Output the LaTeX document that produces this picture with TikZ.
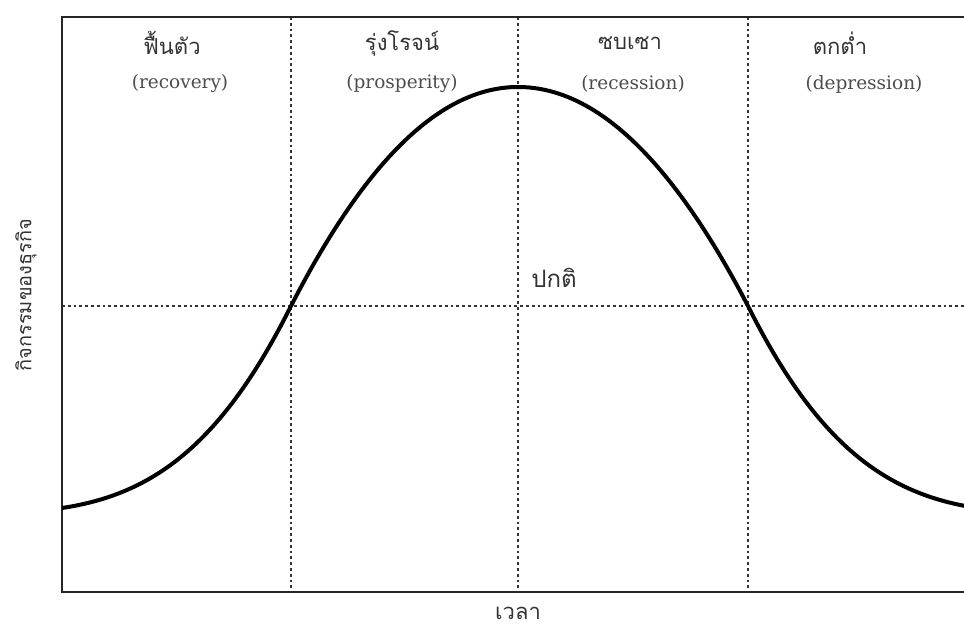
\documentclass[tikz,border=0pt]{standalone}
\usepackage{fontspec}
\setmainfont{DejaVu Serif}
\newfontfamily\thai[Script=Thai]{Loma}
\begin{document}
\begin{tikzpicture}[x=1pt,y=-1pt,
  frame/.style={line width=1.8pt, draw=black!85},
  guide/.style={line width=2.2pt, draw=black!80, dash pattern=on 2.8pt off 3pt},
  curve/.style={line width=4pt, line cap=round},
  thlab/.style={font=\thai\fontsize{22}{24}\selectfont, text=black!80, inner sep=0pt},
  enlab/.style={font=\fontsize{18.5}{22}\selectfont, text=black!70, inner sep=0pt}]
\useasboundingbox (0,0) rectangle (964,631);
\coordinate (TL) at (62,17);
\coordinate (BL) at (62,592);
\coordinate (TR) at (964,17);
\coordinate (BR) at (964,592);
\coordinate (ML) at (62,306);
\coordinate (MR) at (964,306);
\foreach \x/\n in {291/a,518/b,748/c} {
  \coordinate (\n t) at (\x,17);
  \coordinate (\n b) at (\x,592);
}
\draw[guide] (ML) -- (MR);
\foreach \n in {a,b,c} \draw[guide] (\n t) -- (\n b);
\draw[frame] (TR) -- (TL) -- (BL) -- (BR);
\begin{scope}
\clip (62,0) rectangle (964,631);
\draw[curve] (62,508) .. controls (152,494.5) and (221,446) .. (291,306)
  .. controls (367,158) and (442,87) .. (518,87)
  .. controls (595,87) and (671,158) .. (748,306)
  .. controls (818,446) and (887,494.5) .. (977,508);
\end{scope}
\node[thlab] (t1) at (172,43) {ฟื้นตัว};
\node[enlab] (e1) at (180,84) {(recovery)};
\node[thlab] (t2) at (402,43) {รุ่งโรจน์};
\node[enlab] (e2) at (402,84) {(prosperity)};
\node[thlab] (t3) at (630,43) {ซบเซา};
\node[enlab] (e3) at (633,84) {(recession)};
\node[thlab] (t4) at (840,43) {ตกต่ำ};
\node[enlab] (e4) at (864,84) {(depression)};
\node[thlab, font=\thai\fontsize{24}{26}\selectfont] (normal) at (554,278) {ปกติ};
\node[thlab, font=\thai\fontsize{20}{22}\selectfont, rotate=90] (ylab) at (26,295) {กิจกรรมของธุรกิจ};
\node[thlab] (xlab) at (518,613) {เวลา};
\end{tikzpicture}
\end{document}
